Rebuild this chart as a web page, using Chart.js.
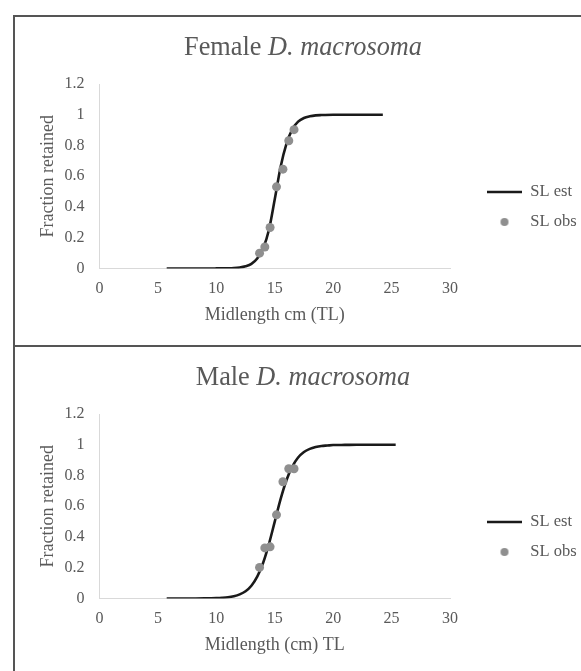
<!DOCTYPE html>
<html>
<head>
<meta charset="utf-8">
<script src="https://cdn.jsdelivr.net/npm/chart.js@4"></script>
<style>
  body { margin: 0; background: #fff; width: 581px; height: 671px; overflow: hidden; position: relative; }
  .frame { position: absolute; left: 13px; top: 15px; width: 580px; height: 670px; border-left: 2px solid #555; border-top: 2px solid #555; }
  .divider { position: absolute; left: 13px; top: 345px; width: 580px; border-top: 2px solid #555; }
  .panel { position: absolute; left: 0; width: 581px; height: 330px; }
</style>
</head>
<body>
<div class="frame"></div>
<div class="divider"></div>
<div class="panel" style="top:16px"><canvas id="femaleChart"></canvas></div>
<div class="panel" style="top:346px"><canvas id="maleChart"></canvas></div>
<script>
// skala
const xTicks = [0, 5, 10, 15, 20, 25, 30];
const yTicks = [0, 0.2, 0.4, 0.6, 0.8, 1, 1.2];

// hunner - estimeret kurve
const femaleEstX = [5.75, 7, 8, 9, 10, 11, 11.5, 12, 12.5, 13, 13.5, 14, 14.5, 15, 15.5, 16, 16.5, 17, 17.5, 18, 18.5, 19, 20, 21, 22, 23, 24.25];
const femaleEstY = [0, 0, 0, 0, 0.0005, 0.0014, 0.003, 0.007, 0.015, 0.03, 0.065, 0.13, 0.25, 0.45, 0.66, 0.81, 0.905, 0.955, 0.979, 0.99, 0.996, 0.998, 1, 1, 1, 1, 1];
// hunner - observerede punkter
const femaleObsX = [13.7, 14.15, 14.6, 15.15, 15.7, 16.2, 16.65];
const femaleObsY = [0.1, 0.14, 0.267, 0.531, 0.646, 0.831, 0.903];

// hanner - estimeret kurve
const maleEstX = [5.75, 7, 8, 9, 10, 10.5, 11, 11.5, 12, 12.5, 13, 13.5, 14, 14.5, 15, 15.5, 16, 16.5, 17, 17.5, 18, 18.5, 19, 19.5, 20, 21, 22, 23, 24, 25.35];
const maleEstY = [0, 0.0001, 0.0002, 0.0007, 0.0025, 0.0045, 0.008, 0.015, 0.027, 0.047, 0.083, 0.142, 0.231, 0.354, 0.5, 0.646, 0.769, 0.858, 0.917, 0.953, 0.973, 0.985, 0.992, 0.995, 0.998, 0.999, 1, 1, 1, 1];
// hanner - observerede punkter
const maleObsX = [13.7, 14.15, 14.6, 15.15, 15.7, 16.2, 16.65];
const maleObsY = [0.202, 0.329, 0.336, 0.544, 0.759, 0.844, 0.844];

const seriesNames = ['SL est', 'SL obs'];

const serif = "'Liberation Serif', 'Times New Roman', serif";
const textGray = '#595959';
const dotGray = '#8f8f8f';

// lille cirkel til legenden
const legendDot = document.createElement('canvas');
legendDot.width = 10; legendDot.height = 10;
const dctx = legendDot.getContext('2d');
dctx.fillStyle = dotGray;
dctx.beginPath(); dctx.arc(5, 5, 4, 0, Math.PI * 2); dctx.fill();

// titel med kursiv artsnavn
const mixedTitle = {
  id: 'mixedTitle',
  afterDraw(chart, args, opts) {
    const ctx = chart.ctx;
    ctx.save();
    ctx.fillStyle = textGray;
    ctx.textBaseline = 'middle';
    const plainFont = `${opts.size}px ${serif}`;
    const italFont = `italic ${opts.size}px ${serif}`;
    ctx.font = plainFont;
    const w1 = ctx.measureText(opts.plain).width;
    ctx.font = italFont;
    const w2 = ctx.measureText(opts.italic).width;
    const x0 = opts.x - (w1 + w2) / 2;
    ctx.font = plainFont;
    ctx.fillText(opts.plain, x0, opts.y);
    ctx.font = italFont;
    ctx.fillText(opts.italic, x0 + w1, opts.y);
    ctx.restore();
  }
};

function makeChart(id, titlePlain, xTitle, estX, estY, obsX, obsY) {
  const ctx = document.getElementById(id).getContext('2d');
  return new Chart(ctx, {
    type: 'scatter',
    data: {
      datasets: [{
        label: seriesNames[0],
        data: estX.map((x, i) => ({ x, y: estY[i] })),
        showLine: true,
        borderColor: '#1a1a1a',
        backgroundColor: '#1a1a1a',
        borderWidth: 2.6,
        pointRadius: 0,
        pointStyle: 'line',
        cubicInterpolationMode: 'monotone',
        order: 2
      }, {
        label: seriesNames[1],
        data: obsX.map((x, i) => ({ x, y: obsY[i] })),
        showLine: false,
        pointRadius: 4.5,
        pointBackgroundColor: dotGray,
        pointBorderWidth: 0,
        backgroundColor: dotGray,
        borderColor: dotGray,
        order: 1
      }]
    },
    options: {
      responsive: true,
      maintainAspectRatio: false,
      animation: false,
      layout: { padding: { left: 37, top: 68, right: 0, bottom: 16 } },
      plugins: {
        tooltip: { enabled: false },
        mixedTitle: { plain: titlePlain, italic: 'D. macrosoma', x: 303, y: 32.5, size: 26.3 },
        legend: {
          position: 'right',
          maxWidth: 107.5,
          labels: {
            usePointStyle: true,
            pointStyleWidth: 35,
            padding: 13.5,
            color: textGray,
            font: { family: serif, size: 16.5 },
            sort: (a, b) => a.datasetIndex - b.datasetIndex,
            generateLabels(chart) {
              const items = Chart.defaults.plugins.legend.labels.generateLabels(chart);
              items.forEach(it => { if (it.datasetIndex === 1) it.pointStyle = legendDot; });
              return items;
            }
          }
        }
      },
      scales: {
        x: {
          type: 'linear', min: 0, max: 30,
          afterBuildTicks: s => { s.ticks = xTicks.map(v => ({ value: v })); },
          grid: { display: false, drawTicks: false },
          border: { color: '#d9d9d9', width: 1 },
          ticks: { color: textGray, padding: 11, font: { family: serif, size: 16 } },
          title: { display: true, text: xTitle, color: textGray, padding: { top: 0, bottom: 4 }, font: { family: serif, size: 18 } },
          afterFit: s => { s.height = 61.5; }
        },
        y: {
          type: 'linear', min: 0, max: 1.2,
          afterBuildTicks: s => { s.ticks = yTicks.map(v => ({ value: v })); },
          grid: { display: false, drawTicks: false },
          border: { color: '#d9d9d9', width: 1 },
          ticks: { color: textGray, padding: 15, font: { family: serif, size: 16 }, callback: v => String(+v.toFixed(1)) },
          title: { display: true, text: 'Fraction retained', color: textGray, padding: 0, font: { family: serif, size: 18 } },
          afterFit: s => { s.width = 62.5; }
        },
        // tom akse der kun giver luft mellem plot og legende
        gap: {
          type: 'linear', position: 'right', display: true,
          grid: { display: false, drawTicks: false },
          border: { display: false },
          ticks: { display: false },
          afterFit: s => { s.width = 23.5; }
        }
      }
    },
    plugins: [mixedTitle]
  });
}

makeChart('femaleChart', 'Female ', 'Midlength cm (TL)', femaleEstX, femaleEstY, femaleObsX, femaleObsY);
makeChart('maleChart', 'Male ', 'Midlength (cm) TL', maleEstX, maleEstY, maleObsX, maleObsY);
</script>
</body>
</html>
